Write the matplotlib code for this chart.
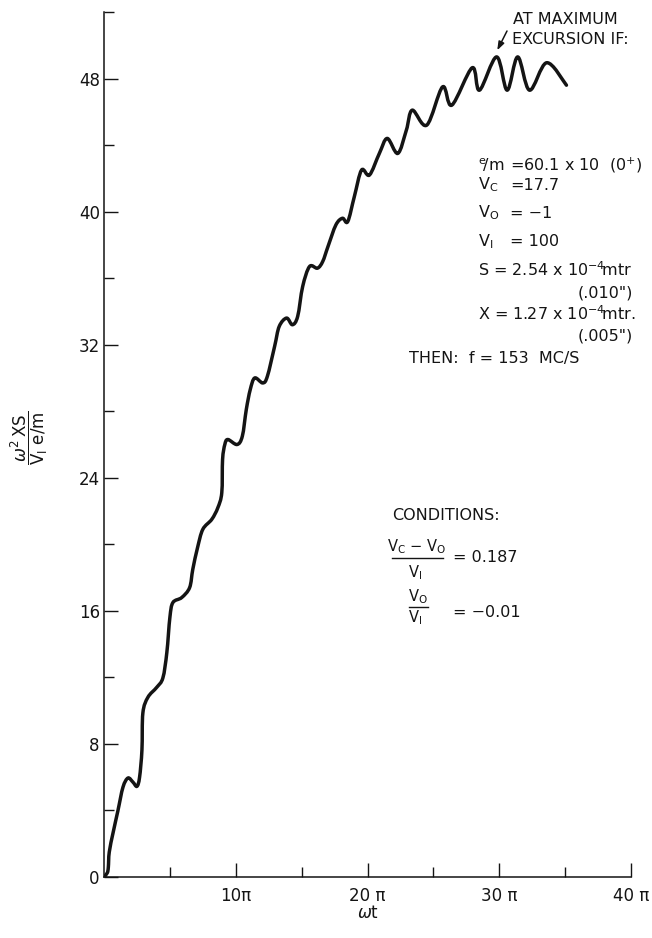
import numpy as np
import matplotlib
matplotlib.use("Agg")
import matplotlib.pyplot as plt
from matplotlib.path import Path
from matplotlib.patches import PathPatch
from matplotlib.lines import Line2D

# ---- data (omega*t in units of pi, normalised excursion) ----
omega_t_pi = [0.0, 0.25, 0.33, 0.4, 0.7, 1.06, 1.44, 1.82, 2.2, 2.5, 2.7, 2.88, 2.95,
              3.33, 4.0, 4.47, 4.77, 5.0, 5.23, 5.9, 6.5, 6.74, 7.1, 7.5, 8.18, 8.64,
              8.94, 9.0, 9.17, 9.4, 10.1, 10.5, 10.8, 11.1, 11.44, 12.05, 12.4, 12.95,
              13.3, 13.86, 14.3, 14.7, 15.08, 15.6, 16.2, 16.6, 17.0, 17.6, 18.1, 18.5,
              19.0, 19.55, 20.15, 20.9, 21.5, 22.3, 22.95, 23.4, 24.5, 25.7, 26.4,
              27.95, 28.5, 29.8, 30.6, 31.4, 32.3, 33.6, 35.1]
excursion = [0.0, 0.25, 0.6, 1.5, 2.7, 4.0, 5.4, 5.95, 5.7, 5.45, 6.0, 7.64, 9.86,
             10.8, 11.4, 11.97, 13.5, 15.6, 16.5, 16.8, 17.4, 18.5, 19.8, 20.9, 21.5, 22.2,
             23.1, 25.1, 26.0, 26.3, 26.0, 26.5, 28.1, 29.3, 30.0, 29.7, 30.1, 31.9,
             33.1, 33.6, 33.2, 33.7, 35.5, 36.7, 36.6, 37.0, 37.9, 39.2, 39.6, 39.4,
             40.9, 42.5, 42.2, 43.5, 44.4, 43.5, 44.9, 46.1, 45.2, 47.5, 46.4,
             48.65, 47.3, 49.3, 47.3, 49.3, 47.3, 48.95, 47.6]

y_major = [0, 8, 16, 24, 32, 40, 48]
y_minor = [4, 12, 20, 28, 36, 44, 52]
x_major = [10, 20, 30, 40]
x_major_labels = ["10π", "20 π", "30 π", "40 π"]
x_minor = [5, 15, 25, 35]

W, H = 652, 938
INK = "#141414"
FS = 11.5
plt.rcParams["font.family"] = ["DejaVu Sans"]
plt.rcParams["mathtext.fontset"] = "dejavusans"

fig = plt.figure(figsize=(W / 100, H / 100), dpi=100)
ax = fig.add_axes([104 / W, (H - 877) / H, (631 - 104) / W, (877 - 12) / H])
ax.set_xlim(0, 40)
ax.set_ylim(0, 52)

# smooth curve through the traced points (Catmull-Rom -> cubic Bezier in data space)
pts = np.column_stack([omega_t_pi, excursion])
P = np.vstack([pts[0], pts, pts[-1]])
verts = [pts[0]]
codes = [Path.MOVETO]
for i in range(1, len(P) - 2):
    p0, p1, p2, p3 = P[i - 1], P[i], P[i + 1], P[i + 2]
    verts += [p1 + (p2 - p0) / 6.0, p2 - (p3 - p1) / 6.0, p2]
    codes += [Path.CURVE4] * 3
ax.add_patch(PathPatch(Path(verts, codes), fill=False, lw=2.5, ec=INK,
                       capstyle="round", joinstyle="round"))

for s in ["top", "right"]:
    ax.spines[s].set_visible(False)
for s in ["left", "bottom"]:
    ax.spines[s].set_linewidth(1.1)
    ax.spines[s].set_color(INK)

ax.set_yticks(y_major)
ax.set_yticks(y_minor, minor=True)
ax.set_xticks(x_major)
ax.set_xticklabels(x_major_labels)
ax.set_xticks(x_minor, minor=True)
ax.tick_params(which="major", direction="in", length=10, width=1.0, color=INK,
               labelsize=12, labelcolor=INK)
ax.tick_params(which="minor", direction="in", length=7, width=1.0, color=INK)
ax.tick_params(axis="y", which="major", pad=3)
ax.tick_params(axis="x", which="major", pad=7)


def ft(x, y, s, **kw):
    kw.setdefault("fontsize", FS)
    kw.setdefault("color", INK)
    kw.setdefault("va", "center")
    return fig.text(x / W, 1 - y / H, s, **kw)


def fline(x0, x1, y):
    fig.add_artist(Line2D([x0 / W, x1 / W], [1 - y / H, 1 - y / H],
                          transform=fig.transFigure, color=INK, lw=1.0))


# axis labels
ft(29, 438, r"$\dfrac{\omega^2\,\mathrm{XS}}{\mathrm{V_I}\ \mathrm{e/m}}$",
   rotation=90, ha="center", fontsize=12)
ft(368, 913, r"$\omega$t", ha="center", fontsize=12)

# annotation at top
ft(513, 20, "AT MAXIMUM", ha="left")
ft(512, 40, "EXCURSION IF:", ha="left")
ax.annotate("", xy=(29.85, 49.7), xycoords="data",
            xytext=(507 / W, 1 - 31 / H), textcoords="figure fraction",
            arrowprops=dict(arrowstyle="-|>,head_length=0.5,head_width=0.18",
                            color=INK, lw=1.1, shrinkA=0, shrinkB=0))

# parameter block
ft(478, 165, r"$^{\mathrm{e}}\!/\mathrm{m}$", ha="left")
ft(510, 165, "=60.1 x 10  (0$^{+}$)", ha="left")
ft(478, 185, r"V$_\mathrm{C}$", ha="left")
ft(510, 185, "=17.7", ha="left")
ft(478, 213, r"V$_\mathrm{O}$", ha="left")
ft(510, 213, "= −1", ha="left")
ft(478, 242, r"V$_\mathrm{I}$", ha="left")
ft(510, 242, "= 100", ha="left")
ft(478, 270, r"S = 2.54 x 10$^{-4}\!$mtr", ha="left")
ft(633, 293, '(.010")', ha="right")
ft(478, 314, r"X = 1.27 x 10$^{-4}\!$mtr.", ha="left")
ft(633, 336, '(.005")', ha="right")
ft(409, 358, "THEN:  f = 153  MC/S", ha="left")

# conditions block
ft(392, 515, "CONDITIONS:", ha="left")
ft(417, 547, r"V$_\mathrm{C}$ − V$_\mathrm{O}$", ha="center", fontsize=10.5)
fline(392, 443, 558)
ft(415, 573, r"V$_\mathrm{I}$", ha="center", fontsize=10.5)
ft(453, 558, "= 0.187", ha="left")
ft(418, 597, r"V$_\mathrm{O}$", ha="center", fontsize=10.5)
fline(409, 428, 607)
ft(415, 618, r"V$_\mathrm{I}$", ha="center", fontsize=10.5)
ft(453, 612, "= −0.01", ha="left")

fig.savefig("out.png", dpi=100, facecolor="white")
